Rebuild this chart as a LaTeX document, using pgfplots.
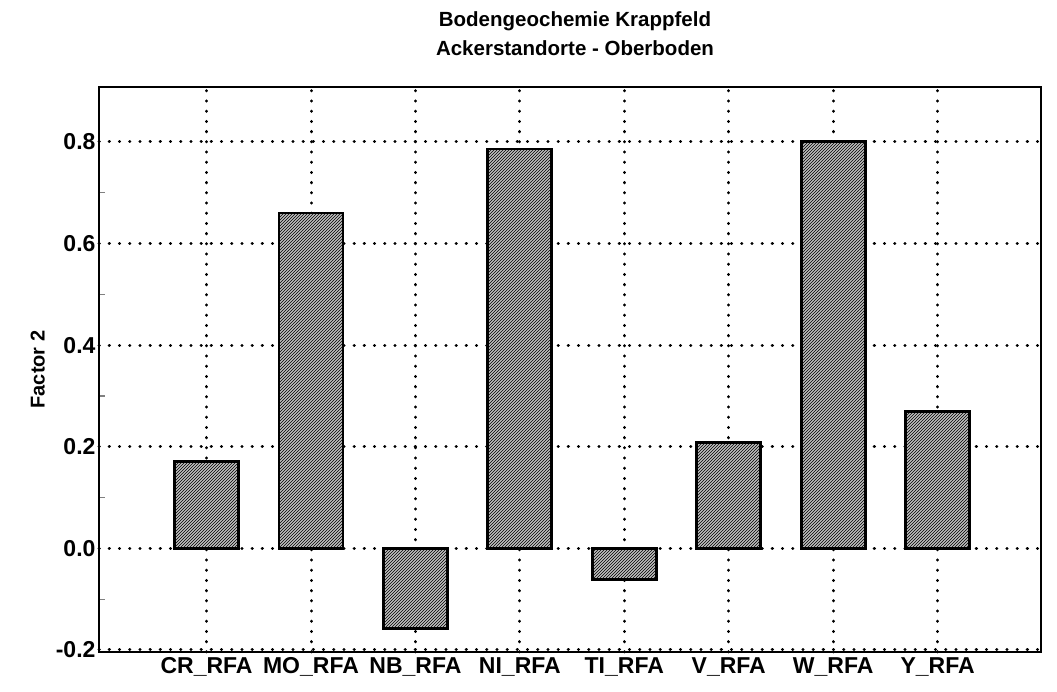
\documentclass[border=0pt]{standalone}
\usepackage{fontspec}
\setmainfont{Liberation Sans}
\usepackage{pgfplots}
\pgfplotsset{compat=1.18}
\usetikzlibrary{patterns}
\begin{document}
\begin{tikzpicture}
\useasboundingbox (-99pt,-40pt) rectangle (958pt,652pt);
\begin{axis}[
  at={(0,0)}, anchor=south west,
  scale only axis, width=942pt, height=565pt,
  xmin=-1.03, xmax=7.99,
  ymin=-0.204, ymax=0.908,
  xtick={0,1,2,3,4,5,6,7},
  xticklabels={CR\_RFA,MO\_RFA,NB\_RFA,NI\_RFA,TI\_RFA,V\_RFA,W\_RFA,Y\_RFA},
  ytick={-0.2,0,0.2,0.4,0.6,0.8},
  minor ytick={-0.1,0.1,0.3,0.5,0.7},
  yticklabel style={/pgf/number format/fixed,/pgf/number format/precision=1,/pgf/number format/fixed zerofill},
  /pgf/number format/assume math mode=true,
  tick label style={font=\fontsize{23}{27}\selectfont\bfseries},
  xticklabel style={yshift=-2pt},
  xtick style={draw=none},
  ytick pos=left,
  major tick length=0pt, minor tick length=6pt,
  minor tick style={line width=1.2pt},
  tick align=inside,
  xmajorgrids, ymajorgrids,
  major grid style={black, line width=3pt, line cap=round, dash pattern=on 0.3pt off 9.9pt},
  axis line style={line width=2.4pt},
  ylabel={Factor 2},
  ylabel style={at={(axis description cs:-0.065,0.5)}, anchor=center, font=\fontsize{20}{24}\selectfont\bfseries},
  title={Bodengeochemie Krappfeld\\[5pt]Ackerstandorte - Oberboden},
  title style={at={(axis description cs:0.5,1)}, anchor=south, yshift=22pt, xshift=5pt, align=center, font=\fontsize{20.5}{24}\selectfont\bfseries},
  ybar, bar width=64pt, bar shift=0pt,
]
\addplot[draw=black, line width=2.8pt, fill=gray!50, postaction={pattern=north east lines, pattern color=black}]
coordinates {(0,0.171) (1,0.660) (2,-0.158) (3,0.786) (4,-0.061) (5,0.209) (6,0.800) (7,0.270)};
\end{axis}
\end{tikzpicture}
\end{document}
